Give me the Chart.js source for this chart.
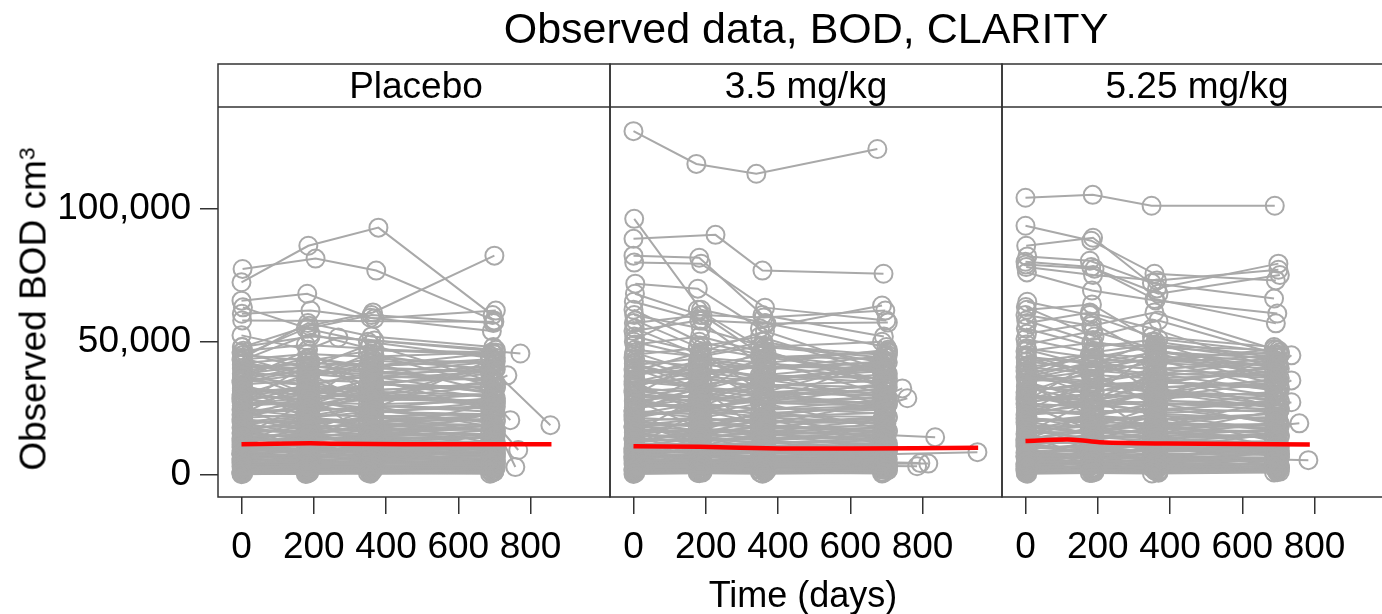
<!DOCTYPE html>
<html><head><meta charset="utf-8">
<script src="https://cdn.jsdelivr.net/npm/chart.js@4.4.1/dist/chart.umd.min.js"></script>
<style>
html,body{margin:0;padding:0;background:#fff;overflow:hidden;width:1382px;height:614px;position:relative}
#wrap{position:absolute;left:0;top:0;width:1405px;height:614px}
.t{position:absolute;font-family:"Liberation Sans",Arial,Helvetica,sans-serif;color:#000;white-space:nowrap;line-height:1}
.sup{font-size:0.62em;position:relative;top:-0.5em}
</style></head><body>
<div id="wrap"><canvas id="c" width="1405" height="614"></canvas></div>
<div class="t" id="title" style="font-size:43px;left:806px;top:7px;transform:translateX(-50%)">Observed data, BOD, CLARITY</div>
<div class="t strip" style="font-size:37px;left:416px;top:67px;transform:translateX(-50%)">Placebo</div>
<div class="t strip" style="font-size:37px;left:806px;top:67px;transform:translateX(-50%)">3.5 mg/kg</div>
<div class="t strip" style="font-size:37px;left:1197px;top:67px;transform:translateX(-50%)">5.25 mg/kg</div>
<div class="t" style="font-size:36px;left:803px;top:577px;transform:translateX(-50%)">Time (days)</div>
<div class="t" style="font-size:37px;left:33px;top:309px;transform:translate(-50%,-50%) rotate(-90deg)">Observed BOD cm<span class="sup">3</span></div>
<script>
// ---------- data ----------
const armNames = ['Placebo', '3.5 mg/kg', '5.25 mg/kg'];
const xTickValues = [0, 200, 400, 600, 800];
const yTickValues = [0, 50000, 100000];

// visit schedules (days); subject rows reference one by index
const visitDays = [
  [0, 182, 357, 693],        // 0
  [2, 187, 364, 700],        // 1
  [5, 178, 350, 688],        // 2
  [1, 191, 368, 704],        // 3
  [4, 184, 360, 697],        // 4
  [0, 185, 379, 695],        // 5
  [3, 205, 373, 699],        // 6
  [0, 183, 268, 772],        // 7
  [0, 182, 357, 693, 766],   // 8
  [2, 186, 362, 699, 855],   // 9
  [0, 183, 361, 700, 744],   // 10
  [2, 185, 360, 698, 794],   // 11
  [0, 183, 361, 700, 835],   // 12
  [1, 182, 358, 695, 952],   // 13
  [0, 184, 363, 702, 783],   // 14
  [4, 188, 366, 701, 736],   // 15
  [1, 180, 355, 690, 758],   // 16
  [0, 174, 340, 675],        // 17
  [0, 227, 357, 692],        // 18
  [0, 186, 349, 690],        // 19
  [3, 183, 362, 703, 816],   // 20
  [1, 181, 359, 696, 785]    // 21
];

// [schedule, BOD at each visit ...]
const placeboSubjects = [
  [0,300,600,500,800],[2,600,400,800,500],
  [0,1000,1400,900,1200],[1,1500,1200,1700,1400],[2,1900,2300,2100,1800],[3,2400,2100,2600,2900],
  [4,2800,3300,3000,2700],[0,3200,2900,3500,3800],[1,3600,4100,3800,3400],[2,4000,3700,4400,4200],
  [3,4500,5000,4600,4900],[4,4900,4600,5300,5000],[0,5400,5900,5600,6100],[1,5800,5500,6200,5700],
  [2,6300,6800,6500,7000],[3,6700,6300,7100,6900],[4,7200,7700,7400,7900],[0,7700,7300,8100,7800],
  [1,8200,8700,8400,9000],[2,8700,8300,9200,8800],[3,9200,9800,9500,10100],[4,9800,9300,10300,9900],
  [0,10400,11000,10700,11300],[1,11000,10500,11500,11100],[2,11600,12300,11900,12600],[3,12300,11700,12900,12400],
  [4,13000,13700,13300,14000],[0,13700,13000,14300,13800],[1,14400,15200,14800,15500],[2,15200,14500,15900,15300],
  [3,16000,16900,16400,17200],[4,16800,16000,17600,17000],[0,17700,18600,18100,19000],[1,18600,17700,19500,18800],
  [2,19500,20500,20000,20900],[3,20500,19500,21500,20700],[4,21500,22600,22000,23000],[0,22600,21500,23700,22800],
  [1,23700,24900,24200,25300],[2,24800,23600,26000,25000],[3,26000,27300,26600,27800],[4,27200,25900,28500,27400],
  [0,28500,29900,29200,30400],[1,29800,28400,31200,30000],[2,31200,32700,31900,33300],[3,32600,31000,34100,32800],
  [4,34000,35700,34800,36300],[0,35500,33800,37100,35700],[1,37000,38800,37900,39500],[2,38500,36700,40300,38800],
  [3,40100,42000,41000,42700],[4,41700,39800,43600,42000],[0,43300,45400,44400,46100],[1,45000,42900,46800,45200],
  [2,46600,48800,47500,44800],[3,48000,52000,50500,47000],
  [0,6000,12500,9000,15000],[1,18000,9500,14000,7500],[2,25000,16000,21000,12000],[3,12000,22000,17000,27000],
  [4,33000,21000,26000,18000],[0,9000,4000,8000,3500],[1,40000,30000,36000,24000],[2,15000,27000,33000,40000],
  [3,30000,38000,25000,44000],[4,3000,8000,5500,11000],[0,21000,30000,14000,23000],[1,44000,37000,42000,31000],
  [2,27000,41000,34000,38000],[3,8000,15000,19000,10000],[4,36000,47000,29000,41000],[0,46000,40000,49000,35000],
  [1,2000,5000,2500,6500],[2,14000,6000,10000,4500],[3,38000,29000,45000,33000],[4,23000,35000,30000,26000],
  [0,1200,2000,1500,2600],[1,2600,1800,3300,2200],[2,3900,5200,4600,3700],[3,5100,3800,6000,5400],
  [4,6600,8100,7000,8800],[0,8000,6900,9300,7600],[1,9500,11200,10100,12000],[2,10900,9600,12200,10700],
  [3,12600,14500,13400,15100],[4,14100,12500,15600,13700],[0,15700,17900,16600,18400],[1,17300,15500,18700,16900],
  [2,19000,21500,20100,22300],[3,20800,18700,22300,20200],[4,22600,25300,23800,26000],[0,24500,22100,26100,23700],
  [1,26400,29300,27700,30200],[2,28400,25800,30100,27500],[3,30400,33400,31800,34300],[4,32500,29700,34200,31400],
  [0,34700,37900,36100,38700],[1,36900,33900,38500,35600],[2,39100,42300,40700,43400],[3,41400,38200,43000,39800],
  [4,1800,3700,2700,4400],[0,4500,2300,5800,3300],[1,7000,10300,8400,11600],[2,11800,7800,13600,9100],
  [3,16400,20800,18300,22700],[4,21200,16800,24500,19400],[0,27600,33000,29800,35200],[1,33800,27200,36900,30500],
  [2,2200,1500,2900,1900],[3,3400,4600,2800,4100],[4,5700,4900,6800,6200],[0,7900,9700,8600,10500],
  [1,10100,8500,11400,9200],[2,13200,15800,14000,16700],[3,17900,15100,19400,16400],[4,23300,27600,25100,28900],
  [0,29200,24600,31300,26800],[1,35800,41000,38200,42600],[2,42800,36100,45300,38900],[3,4800,7200,5300,8300],
  [4,9000,6300,10600,7000],[0,12900,17200,15000,18600],[1,19700,14800,21800,16200],[2,25900,31700,28300,33600],
  [3,31800,26300,34800,28700],[4,38000,43900,40900,45800],[0,800,1700,1100,2400],[1,1400,900,2000,1300],
  [2,3000,2400,3700,2900],[3,6100,7600,5400,8000],[4,8500,7100,9700,8200],[0,11400,13900,12200,14400],
  [1,16100,13300,17600,14800],[2,21900,26400,23000,27300],[3,28800,24100,30600,25600],[4,34900,39700,36600,41100],
  [2,45000,55000,50000,44000],[3,43000,53000,47000,46000],[4,44000,57000,52000,48000],
  [5,72300,86000,92800,60000],[6,77300,81200,76700,58000],[0,65400,68000,59000,54000],
  [1,48000,56000,61000,82300],[3,60500,61700,58700,61700],[4,62900,55000,60000,57000],
  [7,52400,47000,51600,45600],[9,42000,44000,40000,39000,18700],[15,38000,41000,39000,35000,37400],
  [16,26000,28000,24000,22000,3000],[8,20000,22000,18000,21000,9400],[10,30000,32000,29000,27000,20600],
  [1,58000,null,null,57500]
];

const mg35Subjects = [
  [0,400,700,500,900],
  [2,800,1200,1000,600],[3,1300,1000,1600,1900],[4,1800,2300,1500,2000],[0,2200,1900,2500,2300],
  [1,2700,3100,2400,2800],[2,3100,2700,3400,3000],[3,3500,3900,3200,3700],[4,4000,3600,4300,4100],
  [0,4400,4900,4100,4600],[1,4900,4500,5200,4800],[2,5400,5900,5100,5600],[3,5900,5400,6200,5800],
  [4,6400,6900,6000,6600],[0,6900,6400,7300,7000],[1,7400,8000,7100,7600],[2,8000,7500,8400,7900],
  [3,8600,9200,8200,8900],[4,9200,8600,9600,9300],[0,9800,10500,9400,10100],[1,10500,9900,10900,10400],
  [2,11200,11900,10700,11500],[3,11900,11200,12400,11800],[4,12700,13500,12200,13000],[0,13500,12800,14000,13600],
  [1,14300,15200,13800,14700],[2,15200,14400,15800,15300],[3,16100,17100,15500,16600],[4,17100,16200,17800,17300],
  [0,18100,19200,17500,18700],[1,19200,18200,19900,19400],[2,20300,21500,19600,20900],[3,21500,20300,22300,21800],
  [4,22700,24000,21900,23400],[0,24000,22700,24900,24300],[1,25300,26800,24500,26100],[2,26700,25200,27700,26900],
  [3,28100,29800,27200,29000],[4,29600,27900,30700,29800],[0,31100,33000,30200,32100],[1,32700,30900,33900,32900],
  [2,34300,36400,33300,35400],[3,36000,34000,37300,36200],[4,37700,40000,36600,38900],[0,39500,37300,40900,39700],
  [1,41300,43800,40200,42600],[2,43200,40800,44700,43400],[3,45100,47800,43900,46400],[4,47000,44500,48600,45000],
  [0,7000,14000,10000,5000],[1,20000,11000,16000,9000],[2,28000,18000,23000,13000],[3,11000,24000,19000,28000],
  [4,35000,23000,27000,17000],[0,10000,5000,7500,3000],[1,42000,32000,38000,26000],[2,16000,29000,35000,41000],
  [3,33000,40000,27000,45000],[4,3500,9000,6000,12000],[0,24000,33000,16000,21000],[1,46000,38000,43000,30000],
  [2,30000,43000,36000,40000],[3,9000,16000,21000,11000],[4,39000,46000,31000,43000],[0,44000,36000,47000,33000],
  [1,2500,6000,3000,7000],[2,15000,7000,11000,5000],[3,40000,31000,46000,35000],[4,25000,37000,32000,24000],
  [1,1100,1900,1400,2500],[2,2500,1700,3100,2100],[3,3800,5000,4400,3500],[4,5000,3700,5800,5200],
  [0,6400,7900,6800,8500],[1,7800,6700,9000,7300],[2,9300,10900,9800,11600],[3,10700,9400,11900,10400],
  [4,12300,14100,13100,14700],[0,13800,12200,15200,13300],[1,15300,17400,16200,17900],[2,16900,15100,18200,16400],
  [3,18600,21000,19600,21700],[4,20300,18200,21700,19600],[0,22100,24700,23200,25300],[1,23900,21500,25400,23000],
  [2,25800,28600,27000,29400],[3,27700,25100,29300,26700],[4,29700,32600,31000,33400],[0,31700,29000,33300,30600],
  [1,33900,37000,35200,37700],[2,36100,33100,37500,34700],[3,38300,41300,39700,42300],[4,40500,37300,41900,38700],
  [0,1700,3600,2600,4200],[1,4400,2200,5600,3200],[2,6800,10000,8200,11200],[3,11500,7600,13200,8800],
  [4,16000,20300,17800,22100],[0,20700,16400,23900,18900],[1,26900,32200,29100,34300],[2,33000,26500,36000,29700],
  [3,2100,1400,2800,1800],[4,3300,4500,2700,4000],[0,5600,4800,6600,6000],[1,7700,9400,8400,10200],
  [2,9900,8300,11100,9000],[3,12900,15400,13700,16300],[4,17500,14700,18900,16000],[0,22800,26900,24500,28200],
  [1,28500,24000,30500,26100],[2,35000,40100,37300,41600],[3,41800,35300,44200,38000],[4,4700,7000,5200,8100],
  [0,8800,6100,10300,6800],[1,12600,16800,14600,18100],[2,19200,14400,21300,15800],[3,25300,30900,27600,32800],
  [4,31000,25700,34000,28000],[0,37100,42800,39900,44700],[1,700,1600,1000,2300],[2,1300,800,1900,1200],
  [3,2900,2300,3600,2800],[4,6000,7400,5300,7800],[0,8300,6900,9500,8000],[1,11100,13600,11900,14000],
  [2,15700,13000,17200,14400],[3,21400,25700,22400,26600],[4,28100,23500,29900,25000],[0,34000,38700,35700,40100],
  [0,62000,50000,45000,40000],[1,60000,55000,48000,44000],[2,58000,48000,52000,38000],[3,57000,60000,44000,46000],
  [4,55000,45000,50000,42000],[0,54000,58000,41000,36000],[1,52000,46000,54000,39000],[2,51000,62000,48000,50000],
  [3,50000,44000,42000,47000],[4,49000,52000,46000,34000],
  [17,129000,116700,113000,122300],[1,96100,62000,57000,48000],[18,88600,90100,76700,75500],
  [0,82300,81500,60000,52000],[1,79700,79300,62800,58000],[2,71800,69900,55000,63600],
  [4,68000,60000,59100,61700],[3,65000,58000,56800,57200],
  [10,35000,33000,31000,30000,32500],[16,30000,29000,27000,26000,28800],[12,18000,17000,16000,15000,14200],
  [13,9000,8500,8000,7800,8600],[11,6000,5500,5000,4800,4500],[20,5000,4600,4400,4200,4300],[21,4000,3800,3500,3400,3300]
];

const mg525Subjects = [
  [2,500,800,600,1000],
  [3,700,1100,900,1300],[4,1200,900,1500,1100],[0,1700,2100,1800,2300],[1,2200,1900,2500,2100],
  [2,2700,3100,2800,3300],[3,3200,2800,3500,3100],[4,3700,4200,3900,4400],[0,4200,3800,4600,4100],
  [1,4800,5300,5000,5500],[2,5300,4900,5700,5200],[3,5900,6500,6100,6700],[4,6500,6000,6900,6400],
  [0,7100,7700,7400,7900],[1,7800,7200,8200,7600],[2,8500,9200,8800,9400],[3,9200,8600,9700,9100],
  [4,10000,10800,10300,10900],[0,10800,10100,11300,10700],[1,11600,12500,12000,12700],[2,12500,11800,13100,12400],
  [3,13400,14400,13800,14600],[4,14400,13500,15000,14200],[0,15400,16500,15900,16800],[1,16500,15500,17200,16300],
  [2,17600,18900,18200,19200],[3,18800,17700,19600,18500],[4,20000,21400,20700,21800],[0,21300,20000,22200,21000],
  [1,22600,24200,23400,24600],[2,24000,22600,25000,23700],[3,25400,27200,26300,27600],[4,26900,25300,28000,26600],
  [0,28400,30400,29400,30900],[1,30000,28200,31200,29700],[2,31600,33800,32700,34300],[3,33300,31300,34700,33000],
  [4,35000,37500,36200,38100],[0,36800,34600,38300,36400],[1,38600,41300,39900,42000],[2,40500,38100,42100,40000],
  [3,42400,45400,43900,46100],[4,44400,41800,46200,43900],[0,46400,49600,47900,45200],[1,47500,44000,48500,46800],
  [2,6500,13000,9500,15500],[3,19000,10000,15000,8000],[4,26000,17000,22000,12500],[0,13000,23000,18000,28000],
  [1,34000,22000,27000,19000],[2,9500,4500,8500,4000],[3,41000,31000,37000,25000],[4,16000,28000,34000,41000],
  [0,31000,39000,26000,45000],[1,3200,8500,6000,11500],[2,22000,31000,15000,24000],[3,45000,38000,43000,32000],
  [4,28000,42000,35000,39000],[0,8500,16000,20000,10500],[1,37000,46000,30000,42000],[2,47000,41000,50000,36000],
  [3,2400,5500,2800,6800],[4,14500,6500,10500,5000],[0,39000,30000,46000,34000],[1,24000,36000,31000,25000],
  [3,1300,2100,1600,2700],[4,2700,1900,3400,2300],[0,4000,5300,4700,3800],[1,5300,3900,6200,5600],
  [2,6800,8400,7200,9100],[3,8300,7100,9600,7800],[4,9800,11600,10400,12400],[0,11300,9900,12600,11100],
  [1,13000,15000,13900,15600],[2,14600,12900,16100,14100],[3,16300,18500,17200,19000],[4,17900,16000,19300,17500],
  [0,19700,22200,20800,23000],[1,21500,19300,23000,20900],[2,23400,26100,24600,26900],[3,25300,22800,26900,24500],
  [4,27300,30300,28600,31200],[0,29300,26700,31100,28400],[1,31400,34500,32800,35400],[2,33600,30700,35300,32400],
  [3,35800,39100,37300,40000],[4,38100,35000,39800,36800],[0,40400,43700,42000,44800],[1,42700,39400,44400,41100],
  [2,1900,3800,2800,4500],[3,4600,2400,6000,3400],[4,7200,10600,8700,12000],[0,12200,8000,14000,9400],
  [1,16900,21500,18900,23400],[2,21900,17300,25300,20000],[3,28500,34000,30800,36300],[4,34900,28100,38100,31500],
  [0,2300,1600,3000,2000],[1,3500,4700,2900,4200],[2,5900,5100,7000,6400],[3,8200,10000,8900,10800],
  [4,10400,8800,11800,9500],[0,13600,16300,14500,17200],[1,18500,15600,20000,16900],[2,24100,28500,25900,29800],
  [3,30100,25400,32300,27700],[4,37000,42300,39400,44000],[0,44200,37300,46800,40200],[1,5000,7400,5500,8600],
  [2,9300,6500,10900,7200],[3,13300,17800,15500,19200],[4,20300,15300,22500,16700],[0,26700,32700,29200,34700],
  [1,32800,27100,35900,29600],[2,39200,45300,42200,47300],[3,900,1800,1200,2500],[4,1500,1000,2100,1400],
  [0,3100,2500,3800,3000],[1,6300,7800,5600,8300],[2,8800,7300,10000,8500],[3,11800,14300,12600,14900],
  [4,16600,13700,18200,15300],[0,22600,27300,23700,28200],[1,29700,24900,31600,26400],[2,36000,41000,37800,42400],
  [2,65000,60000,52000,48000],[3,63000,52000,58000,45000],[4,62000,64000,50000,44000],[0,60000,56000,61000,47000],
  [1,58000,50000,46000,42000],[2,57000,61000,55000,40000],[3,55000,48000,51000,46000],[4,53000,57000,44000,38000],
  [0,51000,46000,49000,43000],[1,49000,54000,47000,36000],
  [19,104000,105100,101000,101000],[0,93500,87900,75500,73000],[1,86000,89000,70000,79300],
  [2,82000,80400,72000,66200],[3,79000,77400,68000,75000],[4,76000,69200,65500,60600],
  [0,80000,78000,66000,56900],[1,78000,75000,73000,77000],
  [15,44000,42000,43000,41000,44900],[15,36000,34000,35000,33000,35500],[15,29000,28000,27000,26000,27300],
  [16,21000,20000,19000,18500,19400],[14,7000,6500,6000,5800,5600]
];

// smoothed mean (red) lines
const placeboMeanDays = [0, 190, 260, 450, 858];
const placeboMeanBOD  = [11600, 11900, 11700, 11600, 11600];
const mg35MeanDays = [0, 184, 406, 608, 954];
const mg35MeanBOD  = [10850, 10600, 10000, 10000, 10200];
const mg525MeanDays = [0, 113, 150, 205, 390, 787];
const mg525MeanBOD  = [12800, 13300, 13100, 12350, 11850, 11500];

// ---------- build ----------
const GRAY = '#A9A9A9';
const FONT = '"Liberation Sans", Arial, Helvetica, sans-serif';

function subjectDatasets(rows, axisId) {
  return rows.map(r => {
    const days = visitDays[r[0]];
    const pts = [];
    for (let j = 1; j < r.length; j++) {
      if (r[j] !== null) pts.push({x: days[j - 1], y: r[j]});
    }
    return {
      data: pts, xAxisID: axisId, yAxisID: 'y', order: 1,
      borderColor: GRAY, borderWidth: 2,
      pointRadius: 9, pointBorderWidth: 2, pointBorderColor: GRAY,
      pointBackgroundColor: 'rgba(0,0,0,0)', pointStyle: 'circle',
      tension: 0, spanGaps: true, fill: false
    };
  });
}
function meanDataset(days, vals, axisId) {
  return {
    data: days.map((d, i) => ({x: d, y: vals[i]})), xAxisID: axisId, yAxisID: 'y', order: 0,
    borderColor: '#FF0000', borderWidth: 4.5, pointRadius: 0, tension: 0.3, fill: false
  };
}

const datasets = [
  meanDataset(placeboMeanDays, placeboMeanBOD, 'x0'),
  meanDataset(mg35MeanDays, mg35MeanBOD, 'x1'),
  meanDataset(mg525MeanDays, mg525MeanBOD, 'x2'),
  ...subjectDatasets(placeboSubjects, 'x0'),
  ...subjectDatasets(mg35Subjects, 'x1'),
  ...subjectDatasets(mg525Subjects, 'x2')
];

function noPad(s) { s.paddingLeft = 0; s.paddingRight = 0; s.paddingTop = 0; s.paddingBottom = 0; }

function xScale() {
  return {
    type: 'linear', position: 'bottom', stack: 'panels', stackWeight: 1,
    min: -65, max: 1020,
    afterBuildTicks: s => { s.ticks = xTickValues.map(v => ({value: v})); },
    afterFit: s => { s.height = 117; noPad(s); },
    grid: {display: true, drawOnChartArea: false, drawTicks: true, tickLength: 17, color: '#333', lineWidth: 1.5},
    border: {display: false},
    ticks: {color: '#000', font: {family: FONT, size: 37}, padding: 12, maxRotation: 0, autoSkip: false,
            callback: v => String(v)}
  };
}

const framePlugin = {
  id: 'frames',
  afterDraw(chart) {
    const ctx = chart.ctx, a = chart.chartArea;
    const stripTop = 64;
    ctx.save();
    ctx.strokeStyle = '#333';
    ctx.lineWidth = 1.5;
    ['x0', 'x1', 'x2'].forEach(id => {
      const s = chart.scales[id];
      ctx.strokeRect(s.left, stripTop, s.right - s.left, a.bottom - stripTop);
      ctx.beginPath();
      ctx.moveTo(s.left, a.top);
      ctx.lineTo(s.right, a.top);
      ctx.stroke();
    });
    ctx.restore();
  }
};

new Chart(document.getElementById('c'), {
  type: 'line',
  data: {datasets},
  plugins: [framePlugin],
  options: {
    responsive: false, animation: false, devicePixelRatio: 1, events: [],
    layout: {padding: {left: 0, right: 0, top: 107, bottom: 0}},
    plugins: {legend: {display: false}, tooltip: {enabled: false}, title: {display: false}},
    scales: {
      x0: xScale(), x1: xScale(), x2: xScale(),
      y: {
        type: 'linear', position: 'left', min: -8230, max: 138050,
        afterBuildTicks: s => { s.ticks = yTickValues.map(v => ({value: v})); },
        afterFit: s => { s.width = 218; noPad(s); },
        grid: {display: true, drawOnChartArea: false, drawTicks: true, tickLength: 18, color: '#333', lineWidth: 1.5},
        border: {display: false},
        ticks: {color: '#000', font: {family: FONT, size: 37}, padding: 9,
                callback: v => Number(v).toLocaleString('en-US')}
      }
    }
  }
});
</script>
</body></html>
